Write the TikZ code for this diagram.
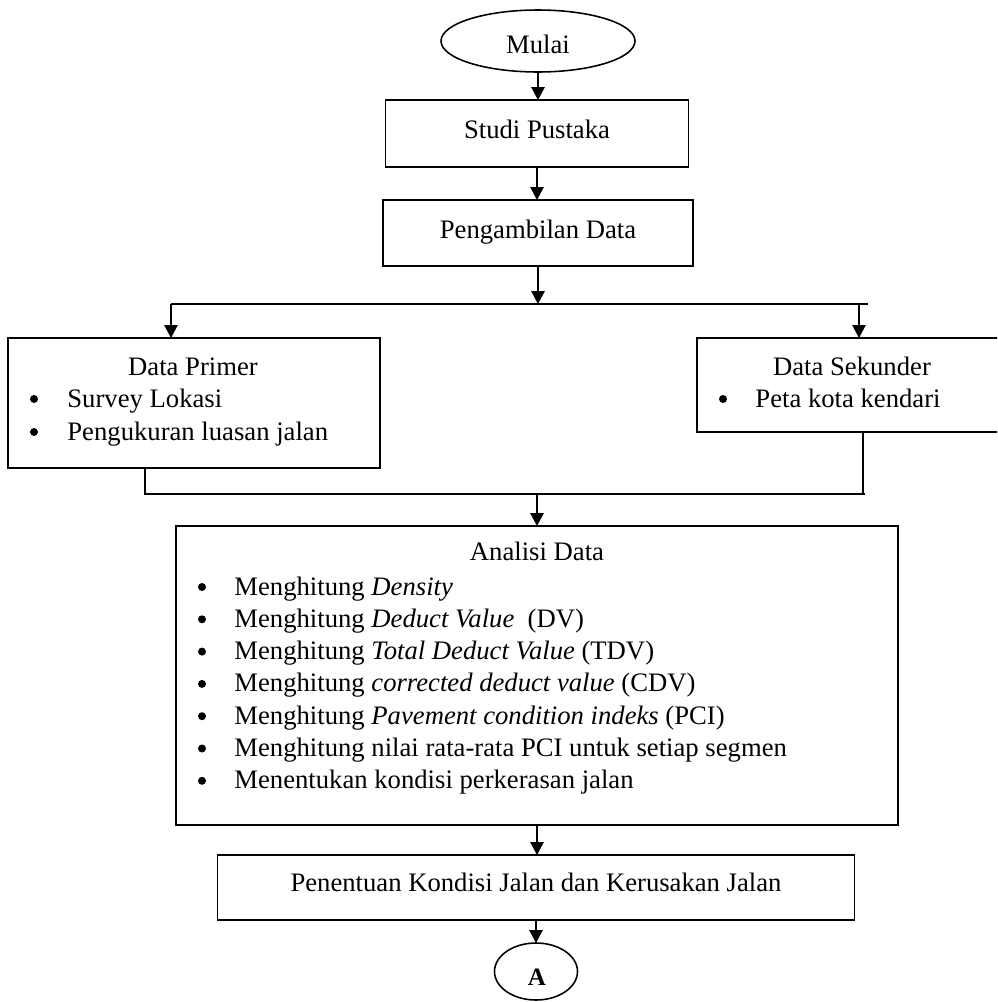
\documentclass[tikz,border=0pt]{standalone}
\usepackage{fontspec}
\setmainfont{Liberation Serif}
\usetikzlibrary{shapes.geometric,arrows.meta}
\def\px{0.48pt}
\tikzset{
  kotak/.style n args={2}{draw,line width=0.75pt,inner sep=0pt,outer sep=0pt,minimum width=#1*\px,minimum height=#2*\px},
  oval/.style n args={2}{ellipse,draw,line width=0.75pt,inner sep=0pt,outer sep=0pt,minimum width=#1*\px,minimum height=#2*\px},
  alur/.style={line width=0.75pt,-{Triangle[width=6.4pt,length=6.2pt]}},
  garis/.style={line width=0.75pt},
  judul/.style={anchor=base,inner sep=0pt},
  butir/.style={anchor=base west,inner sep=0pt},
  titik/.style={circle,fill=black,inner sep=0pt,minimum size=8*\px}
}

\begin{document}
\begin{tikzpicture}[x=0.48pt,y=-0.48pt,every node/.style={font=\fontsize{12.8}{15}\selectfont}]
  \useasboundingbox (0,0) rectangle (997,1002);
  \clip (0,0) rectangle (997,1002);

  % kotak-kotak
  \node[oval={194}{62}] (mulai) at (538,41) {};
  \node[kotak={303}{67}] (studi) at (537,133.5) {};
  \node[kotak={310}{66}] (ambil) at (538,233) {};
  \node[kotak={372}{130}] (primer) at (194,403) {};
  \node[kotak={312}{94}] (sekunder) at (853,385) {};
  \node[kotak={722}{299}] (analisi) at (537,675.5) {};
  \node[kotak={637}{65}] (tentu) at (536,887.5) {};
  \node[oval={83}{57}] (akhir) at (536,971.5) {};

  % teks
  \node[judul] (t-mulai) at (538,53) {Mulai};
  \node[judul] (t-studi) at (537,138) {Studi Pustaka};
  \node[judul] (t-ambil) at (538,238) {Pengambilan Data};
  \node[judul] (t-primer) at (193,375) {Data Primer};
  \node[titik] (d-primer1) at (34,399) {};
  \node[butir] (t-primer1) at (67,407) {Survey Lokasi};
  \node[titik] (d-primer2) at (34,432) {};
  \node[butir] (t-primer2) at (67,440) {Pengukuran luasan jalan};
  \node[judul] (t-sekunder) at (852,375) {Data Sekunder};
  \node[titik] (d-sekunder1) at (723,399) {};
  \node[butir] (t-sekunder1) at (755,407) {Peta kota kendari};
  \node[judul] (t-analisi) at (537,560) {Analisi Data};
  \foreach \teks [count=\i] in {
      {Menghitung \textit{Density}},
      {Menghitung \textit{Deduct Value}\ \ (DV)},
      {Menghitung \textit{Total Deduct Value} (TDV)},
      {Menghitung \textit{corrected deduct value} (CDV)},
      {Menghitung \textit{Pavement condition indeks} (PCI)},
      {Menghitung nilai rata-rata PCI untuk setiap segmen},
      {Menentukan kondisi perkerasan jalan}} {
    \node[titik] (d-analisi\i) at (202,{587+32.3*(\i-1)}) {};
    \node[butir] (t-analisi\i) at (234,{595+32.3*(\i-1)}) {\teks};
  }
  \node[judul] (t-tentu) at (536,891) {Penentuan Kondisi Jalan dan Kerusakan Jalan};
  \node[judul,font=\fontsize{12}{14}\selectfont\bfseries] (t-akhir) at (537,985) {A};

  % percabangan dan penggabungan
  \coordinate (cabL) at (171,304);
  \coordinate (cabR) at (868,304);
  \coordinate (cabS) at (859,304);
  \coordinate (gabL) at (145,494);
  \coordinate (gabR) at (865,494);
  \coordinate (gabS) at (863,494);

  \draw[alur] (mulai.south) -- (mulai.south |- studi.north);
  \draw[alur] (studi.south) -- (studi.south |- ambil.north);
  \draw[alur] (ambil.south) -- (ambil.south |- cabL);
  \draw[garis] (cabL) -- (cabR);
  \draw[alur] (cabL) -- (cabL |- primer.north);
  \draw[alur] (cabS) -- (cabS |- sekunder.north);
  \draw[garis] (gabL |- primer.south) -- (gabL) -- (gabR);
  \draw[garis] (gabS |- sekunder.south) -- (gabS);
  \draw[alur] (analisi.north |- gabL) -- (analisi.north);
  \draw[alur] (analisi.south) -- (analisi.south |- tentu.north);
  \draw[alur] (tentu.south) -- (tentu.south |- akhir.north);
\end{tikzpicture}
\end{document}
